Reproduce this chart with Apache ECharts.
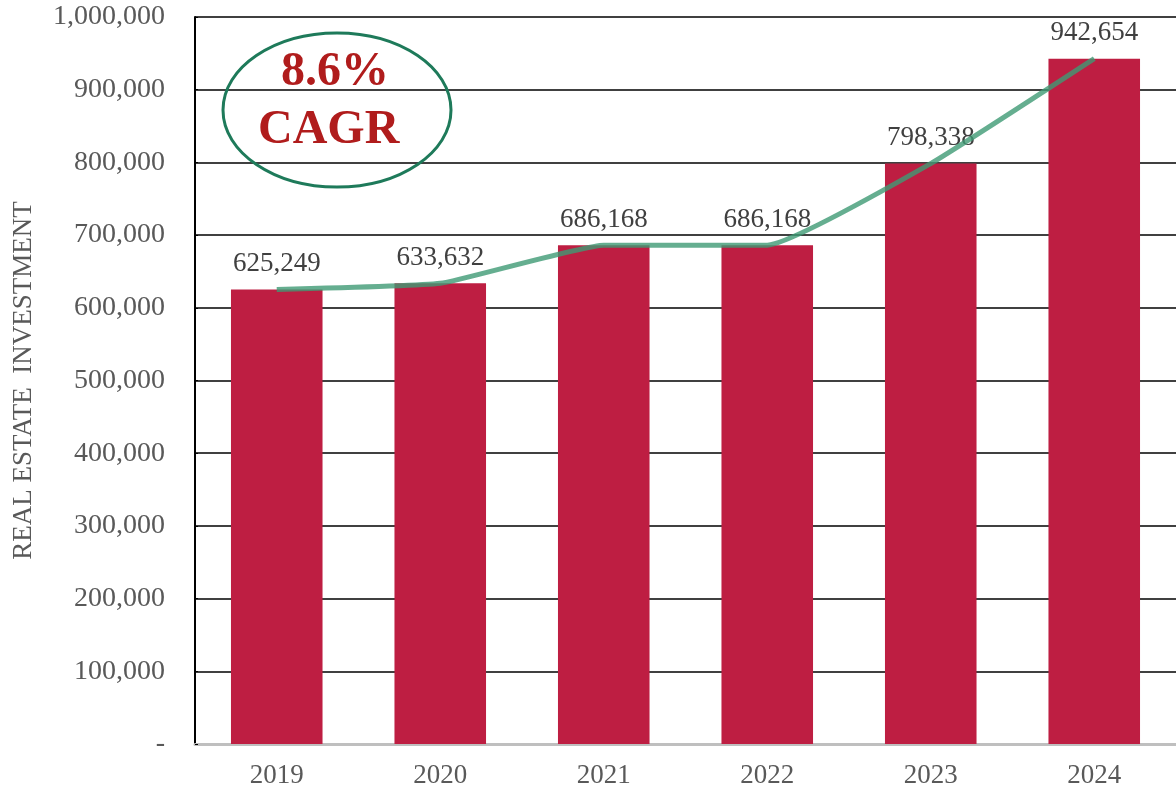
<!doctype html>
<html>
    <head>
        <meta charset="utf-8">
        <title>Real Estate Investment</title>
        <style>
            html, body { margin: 0; padding: 0; background: #fff; }
            #main { width: 1176px; height: 792px; }
        </style>
    </head>
    <body>
        <div id="main"></div>
        <script src="https://cdn.jsdelivr.net/npm/echarts@6/dist/echarts.min.js"></script>
        <script>
            var years = ['2019', '2020', '2021', '2022', '2023', '2024'];
            var investment = [625249, 633632, 686168, 686168, 798338, 942654];
            var cagrText = ['8.6%', 'CAGR'];

            var serif = '"Liberation Serif", "DejaVu Serif", serif';
            var chart = echarts.init(document.getElementById('main'));

            chart.setOption({
                animation: false,
                grid: { left: 195, right: 0, top: 17, bottom: 48 },
                xAxis: {
                    type: 'category',
                    data: years,
                    axisLine: { lineStyle: { color: '#bfbfbf', width: 3 } },
                    axisTick: { show: false },
                    axisLabel: { color: '#595959', fontFamily: serif, fontSize: 27, margin: 18 }
                },
                yAxis: {
                    type: 'value',
                    min: 0,
                    max: 1000000,
                    interval: 100000,
                    name: 'REAL ESTATE  INVESTMENT',
                    nameLocation: 'middle',
                    nameGap: 158,
                    nameRotate: 90,
                    nameTextStyle: { color: '#595959', fontFamily: serif, fontSize: 27 },
                    axisLine: { show: true, lineStyle: { color: '#000', width: 2 } },
                    axisTick: { show: true, inside: true, length: 3, lineStyle: { color: '#000' } },
                    splitLine: { lineStyle: { color: '#000', width: 1.5 } },
                    axisLabel: {
                        color: '#595959', fontFamily: serif, fontSize: 28, margin: 30,
                        formatter: function (v) {
                            return v === 0 ? '-' : v.toLocaleString('en-US');
                        }
                    }
                },
                series: [{
                    type: 'bar',
                    data: investment,
                    barCategoryGap: '44%',
                    itemStyle: { color: '#be1e42' },
                    label: {
                        show: true,
                        position: 'top',
                        distance: 12,
                        color: '#404040',
                        fontFamily: serif,
                        fontSize: 27,
                        formatter: function (p) { return p.value.toLocaleString('en-US'); }
                    }
                }, {
                    type: 'line',
                    data: investment,
                    smooth: 0.12,
                    symbol: 'none',
                    lineStyle: { color: '#3e9a74', width: 5, opacity: 0.8 },
                    z: 3
                }],
                graphic: [{
                    type: 'ellipse',
                    shape: { cx: 337, cy: 110, rx: 114, ry: 77 },
                    style: { fill: 'none', stroke: '#1e7a5a', lineWidth: 3 },
                    z: 10
                }, {
                    type: 'text',
                    left: 281,
                    top: 49,
                    style: { text: cagrText[0], fill: '#b01c1c', font: 'bold 48px ' + serif },
                    z: 10
                }, {
                    type: 'text',
                    left: 258,
                    top: 107,
                    style: { text: cagrText[1], fill: '#b01c1c', font: 'bold 48px ' + serif },
                    z: 10
                }]
            });
            window.addEventListener('resize', function () {
                chart.resize();
            });
        </script>
    </body>
</html>
